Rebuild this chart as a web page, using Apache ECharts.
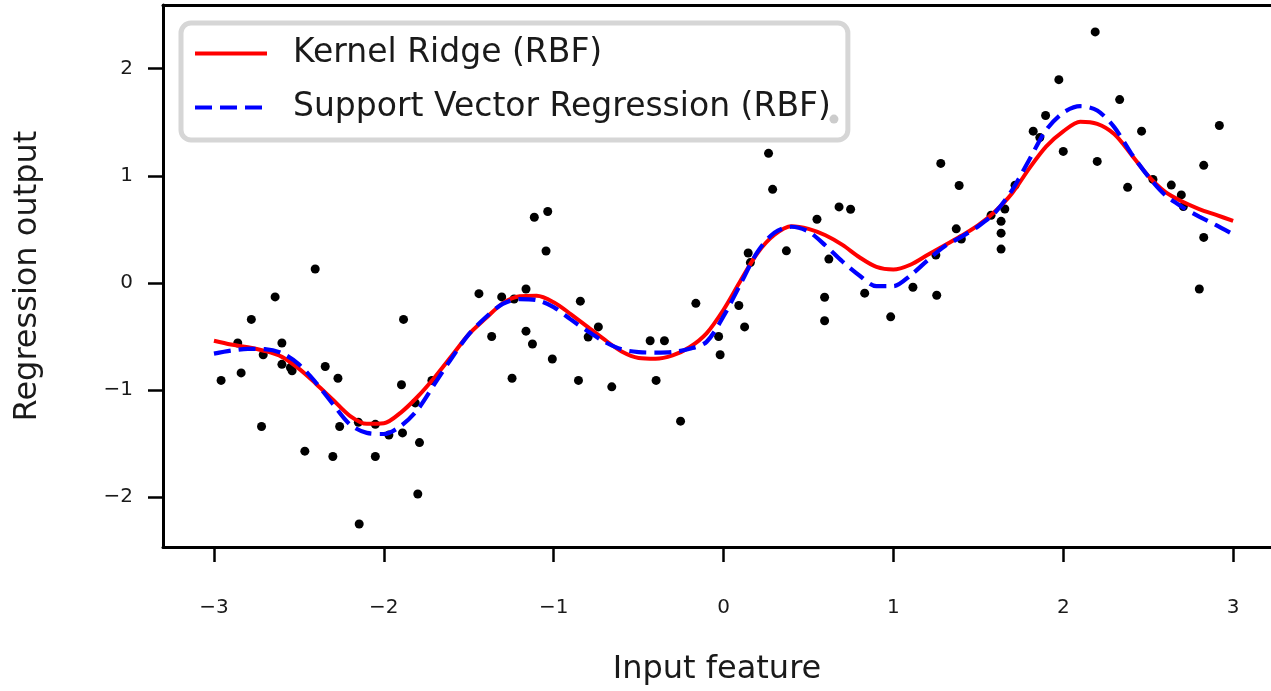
<!DOCTYPE html>
<html>
<head>
<meta charset="utf-8">
<script src="https://cdn.jsdelivr.net/npm/echarts@6/dist/echarts.min.js"></script>
<style>
  html, body { margin: 0; padding: 0; background: #fff; }
  #chart { width: 1271px; height: 691px; }
</style>
</head>
<body>
<div id="chart"></div>
<script>
// Noisy training samples (input feature, target)
const sampleX = [
  -2.958, -2.86, -2.84, -2.78, -2.72, -2.71, -2.64, -2.60, -2.60, -2.55,
  -2.54, -2.465, -2.404, -2.345, -2.30, -2.27, -2.26, -2.15, -2.145, -2.05,
  -2.05, -1.97, -1.89, -1.884, -1.896, -1.815, -1.80, -1.79, -1.717, -1.44,
  -1.365, -1.306, -1.245, -1.233, -1.163, -1.163, -1.125, -1.114, -1.035, -1.045,
  -1.008, -0.854, -0.843, -0.797, -0.737, -0.658, -0.432, -0.397, -0.348, -0.253,
  -0.163, -0.029, -0.02, 0.09, 0.124, 0.145, 0.158, 0.265, 0.289, 0.37,
  0.55, 0.595, 0.595, 0.62, 0.68, 0.748, 0.831, 0.984, 1.115, 1.25,
  1.255, 1.279, 1.387, 1.37, 1.40, 1.575, 1.656, 1.634, 1.634, 1.634,
  1.716, 1.823, 1.862, 1.896, 1.974, 2.0, 2.188, 2.20, 2.332, 2.379,
  2.461, 2.528, 2.636, 2.695, 2.707, 2.801, 2.827, 2.827, 2.919, 0.65
];
const sampleY = [
  -0.91, -0.56, -0.84, -0.34, -1.34, -0.67, -0.13, -0.56, -0.76, -0.79,
  -0.82, -1.57, 0.13, -0.78, -1.62, -0.89, -1.34, -1.30, -2.25, -1.32,
  -1.62, -1.42, -1.40, -0.34, -0.95, -1.12, -1.97, -1.49, -0.91, -0.10,
  -0.50, -0.13, -0.89, -0.15, -0.056, -0.45, -0.57, 0.614, 0.667, 0.298,
  -0.71, -0.91, -0.17, -0.505, -0.41, -0.97, -0.54, -0.91, -0.54, -1.29,
  -0.19, -0.50, -0.67, -0.21, -0.41, 0.28, 0.19, 1.21, 0.874, 0.30,
  0.595, -0.133, -0.353, 0.223, 0.71, 0.688, -0.095, -0.316, -0.04, 0.26,
  -0.115, 1.116, 0.91, 0.505, 0.41, 0.632, 0.69, 0.575, 0.465, 0.316,
  0.912, 1.417, 1.358, 1.563, 1.898, 1.228, 2.344, 1.135, 1.712, 0.893,
  1.417, 0.967, 0.914, 0.822, 0.713, -0.056, 1.098, 0.425, 1.47, 1.53
];

// Prediction grid and the two fitted curves
const gridX = [
  -3.0, -2.9, -2.8, -2.7, -2.6, -2.5, -2.4, -2.3, -2.2, -2.1,
  -2.0, -1.9, -1.8, -1.7, -1.6, -1.5, -1.4, -1.3, -1.2, -1.1,
  -1.0, -0.9, -0.8, -0.7, -0.6, -0.5, -0.4, -0.3, -0.2, -0.1,
  0.0, 0.1, 0.2, 0.3, 0.4, 0.5, 0.6, 0.7, 0.8, 0.9,
  1.0, 1.1, 1.2, 1.3, 1.4, 1.5, 1.6, 1.7, 1.8, 1.9,
  2.0, 2.1, 2.2, 2.3, 2.4, 2.5, 2.6, 2.7, 2.8, 2.9, 3.0
];
const kernelRidgeY = [
  -0.54, -0.575, -0.60, -0.635, -0.69, -0.80, -0.94, -1.09, -1.24, -1.315,
  -1.31, -1.21, -1.06, -0.88, -0.68, -0.48, -0.33, -0.19, -0.125, -0.12,
  -0.18, -0.29, -0.41, -0.53, -0.64, -0.70, -0.707, -0.676, -0.60, -0.47,
  -0.25, 0.02, 0.28, 0.45, 0.53, 0.505, 0.445, 0.355, 0.24, 0.15,
  0.125, 0.17, 0.26, 0.35, 0.44, 0.54, 0.67, 0.84, 1.07, 1.275,
  1.415, 1.505, 1.485, 1.39, 1.20, 1.00, 0.85, 0.76, 0.69, 0.635, 0.58
];
const svrY = [
  -0.66, -0.632, -0.615, -0.618, -0.655, -0.76, -0.93, -1.13, -1.32, -1.40,
  -1.41, -1.335, -1.18, -0.94, -0.70, -0.48, -0.32, -0.195, -0.15, -0.16,
  -0.225, -0.34, -0.45, -0.55, -0.62, -0.645, -0.65, -0.645, -0.615, -0.55,
  -0.31, -0.01, 0.29, 0.47, 0.525, 0.48, 0.35, 0.20, 0.07, -0.03,
  -0.03, 0.07, 0.21, 0.34, 0.43, 0.53, 0.66, 0.87, 1.15, 1.43,
  1.59, 1.65, 1.61, 1.455, 1.21, 0.995, 0.82, 0.71, 0.62, 0.54, 0.455
];

const xTicks = [-3, -2, -1, 0, 1, 2, 3];
const yTicks = [-2, -1, 0, 1, 2];

const pairs = (xs, ys) => xs.map((x, i) => [x, ys[i]]);
const fmt = v => (v < 0 ? '\u2212' + Math.abs(v) : String(v));
const FONT = 'DejaVu Sans';
const TEXT = '#1a1a1a';

// x range runs past the right edge of the canvas; the view is cropped there
const X_MIN = -3.3, X_MAX = 3.223;
const Y_MIN = -2.465, Y_MAX = 2.595;

const chart = echarts.init(document.getElementById('chart'), null, { renderer: 'canvas' });

const spine = { show: true, onZero: false, lineStyle: { color: '#000', width: 3 } };
const tickStyle = { color: '#000', width: 2.5 };
const nameStyle = { fontFamily: FONT, fontSize: 32, color: TEXT, verticalAlign: 'middle' };

chart.setOption({
  animation: false,
  backgroundColor: '#fff',
  grid: { left: 163, top: 5, right: 0, bottom: 142 },
  xAxis: [
    {
      type: 'value', min: X_MIN, max: X_MAX,
      splitLine: { show: false },
      axisLine: spine,
      axisTick: { show: true, length: 15, lineStyle: tickStyle, customValues: xTicks },
      axisLabel: {
        customValues: xTicks, formatter: fmt, margin: 61, verticalAlign: 'middle',
        fontFamily: FONT, fontSize: 20, color: TEXT
      },
      name: 'Input feature', nameLocation: 'middle', nameGap: 123,
      nameTextStyle: nameStyle
    },
    {
      // top spine
      type: 'value', position: 'top', min: X_MIN, max: X_MAX,
      splitLine: { show: false },
      axisLine: spine,
      axisTick: { show: false },
      axisLabel: { show: false }
    }
  ],
  yAxis: {
    type: 'value', min: Y_MIN, max: Y_MAX,
    splitLine: { show: false },
    axisLine: spine,
    axisTick: { show: true, length: 15, lineStyle: tickStyle, customValues: yTicks },
    axisLabel: {
      customValues: yTicks, formatter: fmt, margin: 30,
      fontFamily: FONT, fontSize: 20, color: TEXT
    },
    name: 'Regression output', nameLocation: 'middle', nameGap: 135,
    nameTextStyle: nameStyle
  },
  legend: {
    z: 10,
    orient: 'vertical',
    left: 181, top: 23,
    padding: [14, 17, 16, 12],
    itemWidth: 72, itemHeight: 14, itemGap: 21,
    backgroundColor: 'rgba(255,255,255,0.8)',
    borderColor: '#d6d6d6', borderWidth: 5, borderRadius: 10,
    itemStyle: { opacity: 0 },
    lineStyle: { width: 4 },
    textStyle: { fontFamily: FONT, fontSize: 33, lineHeight: 32, color: TEXT, padding: [0, 0, 0, 21] },
    data: ['Kernel Ridge (RBF)', 'Support Vector Regression (RBF)']
  },
  series: [
    {
      type: 'scatter',
      data: pairs(sampleX, sampleY),
      symbol: 'circle', symbolSize: 9,
      itemStyle: { color: '#000', opacity: 1 },
      z: 1
    },
    {
      name: 'Kernel Ridge (RBF)',
      type: 'line',
      data: pairs(gridX, kernelRidgeY),
      smooth: 0.3, showSymbol: false, symbol: 'none',
      lineStyle: { color: '#ff0000', width: 4, type: 'solid' },
      itemStyle: { color: '#ff0000' },
      z: 2
    },
    {
      name: 'Support Vector Regression (RBF)',
      type: 'line',
      data: pairs(gridX, svrY),
      smooth: 0.3, showSymbol: false, symbol: 'none',
      lineStyle: { color: '#0000ff', width: 4.2, type: [17, 8] },
      itemStyle: { color: '#0000ff' },
      z: 3
    }
  ]
});
</script>
</body>
</html>
